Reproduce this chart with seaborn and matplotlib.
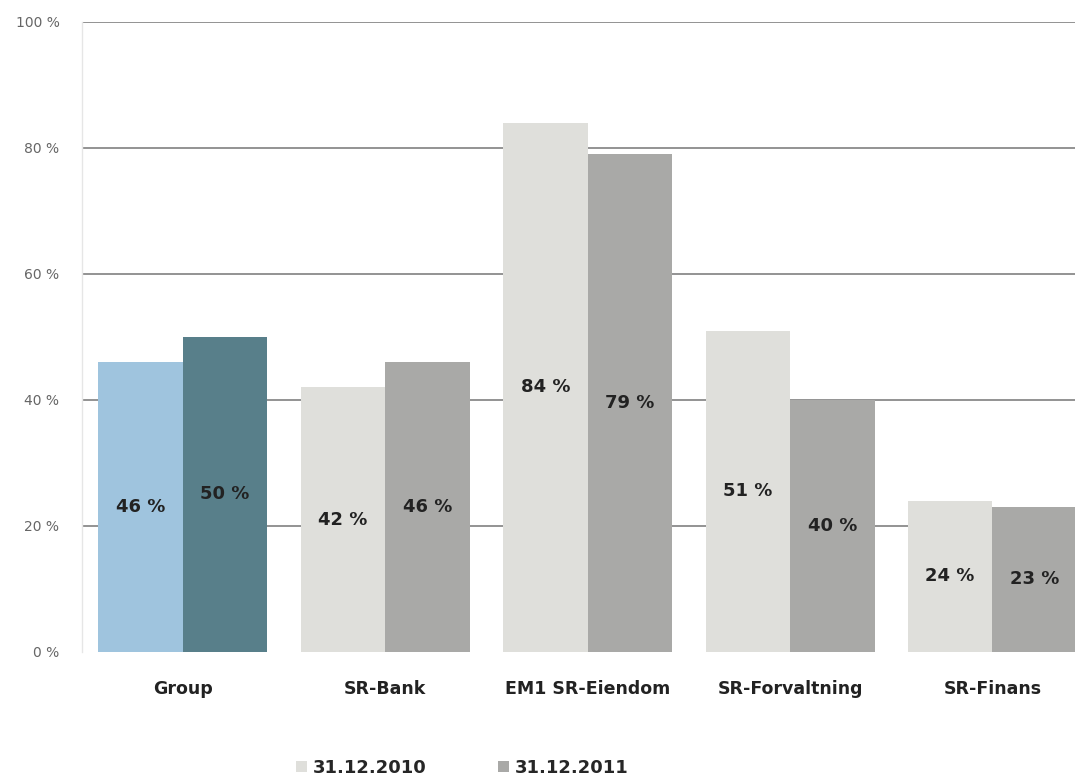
import pandas as pd
import matplotlib.pyplot as plt
import seaborn as sns
from matplotlib.patches import Patch

# data
enheter = ['Group', 'SR-Bank', 'EM1 SR-Eiendom', 'SR-Forvaltning', 'SR-Finans']
verdi_2010 = [46, 42, 84, 51, 24]
verdi_2011 = [50, 46, 79, 40, 23]
aar = ['31.12.2010', '31.12.2011']

df = pd.DataFrame({
    'enhet': enheter * 2,
    'andel': verdi_2010 + verdi_2011,
    'aar': [aar[0]] * len(enheter) + [aar[1]] * len(enheter),
})

sns.set_style('white')
plt.rcParams['font.family'] = ['DejaVu Sans']

fig = plt.figure(figsize=(10.75, 7.78), dpi=100)
ax = fig.add_axes([0.076, 0.162, 0.93, 0.81])

farger = {aar[0]: '#dfdfdb', aar[1]: '#a9a9a7'}
sns.barplot(data=df, x='enhet', y='andel', hue='aar', palette=farger,
            width=0.835, gap=0, saturation=1, legend=False, ax=ax, zorder=3,
            linewidth=0, edgecolor='none')

# Group-stolpene er blå
ax.containers[0][0].set_facecolor('#9fc4de')
ax.containers[1][0].set_facecolor('#587f8a')

for c in ax.containers:
    ax.bar_label(c, labels=[f'{v:.0f} %' for v in c.datavalues],
                 label_type='center', fontsize=13, fontweight='bold',
                 color='#222222', zorder=5)

ax.set_ylim(0, 100)
ax.set_xlim(-0.5, 4.44)
ax.set_yticks([0, 20, 40, 60, 80, 100])
ax.set_yticklabels([f'{t} %' for t in [0, 20, 40, 60, 80, 100]],
                   fontsize=10, color='#666666')
ax.tick_params(axis='y', length=0, pad=16)
ax.tick_params(axis='x', length=0, pad=20)
for lbl in ax.get_xticklabels():
    lbl.set_fontsize(12.5)
    lbl.set_fontweight('bold')
    lbl.set_color('#222222')
ax.set_xlabel('')
ax.set_ylabel('')

for y in [20, 40, 60, 80, 100]:
    ax.axhline(y, color='#8a8a8a', lw=1.3, zorder=1)

for s in ['top', 'right', 'bottom']:
    ax.spines[s].set_visible(False)
ax.spines['left'].set_color('#e6e6e6')
ax.spines['left'].set_linewidth(1)

# legende nederst
handles = [Patch(facecolor=farger[a], edgecolor='none') for a in aar]
fig.legend(handles, aar, loc='center', bbox_to_anchor=(0.43, 0.013), ncol=2,
           frameon=False, handlelength=0.6, handleheight=0.6,
           handletextpad=0.3, columnspacing=4,
           prop={'weight': 'bold', 'size': 13})

fig.savefig('out.png', dpi=100)
